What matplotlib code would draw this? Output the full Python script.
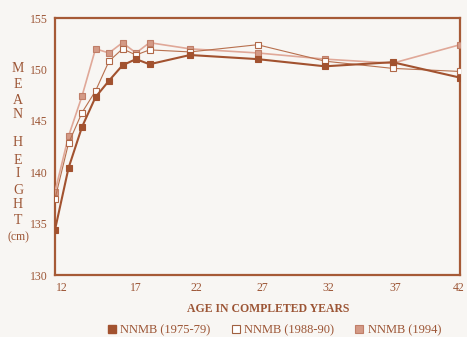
import matplotlib
matplotlib.use("Agg")
import matplotlib.pyplot as plt
import matplotlib.transforms as mtransforms
from matplotlib.lines import Line2D

ages = [12, 13, 14, 15, 16, 17, 18, 19, 22, 27, 32, 37, 42]
h_1975 = [134.4, 140.4, 144.4, 147.3, 148.9, 150.4, 151.0, 150.5, 151.4, 151.0, 150.3, 150.7, 149.2]
h_1988 = [137.4, 142.8, 145.8, 147.9, 150.8, 152.0, 151.4, 151.9, 151.7, 152.4, 150.8, 150.1, 149.8]
h_1994 = [138.1, 143.5, 147.4, 152.0, 151.6, 152.6, 151.6, 152.6, 152.0, 151.6, 151.0, 150.6, 152.4]
series_labels = ["NNMB (1975-79)", "NNMB (1988-90)", "NNMB (1994)"]
x_ticks = [12, 17, 22, 27, 32, 37, 42]
y_ticks = [130, 135, 140, 145, 150, 155]

plt.rcParams['font.family'] = ['Liberation Serif', 'DejaVu Serif']

bg = '#f8f6f3'
dark = '#a2522f'
light = '#d49a86'
line_light = '#e0a898'
frame = '#a65a36'
text_c = '#9c5535'

fig = plt.figure(figsize=(4.67, 3.37), dpi=100, facecolor=bg)
ax = fig.add_axes([55/467, (337-275)/337, 405/467, 257/337], facecolor=bg)

ax.plot(ages, h_1994, color=line_light, lw=1.2, marker='s', ms=5,
        mfc=light, mec='#c07e68', mew=0.8, zorder=3)
ax.plot(ages, h_1988, color='#b8704e', lw=0.8, marker='s', ms=5,
        mfc='white', mec='#b06848', mew=0.8, zorder=4)
ax.plot(ages, h_1975, color=dark, lw=1.5, marker='s', ms=5,
        mfc=dark, mec=dark, mew=0.8, zorder=5)

ax.set_xlim(12, 42)
ax.set_ylim(130, 155)
ax.set_xticks(x_ticks)
ax.set_xticklabels([str(v) for v in x_ticks])
ax.set_yticks(y_ticks)
ax.set_yticklabels([str(v) for v in y_ticks])
ax.tick_params(length=0, labelsize=8.5, colors=text_c, pad=5)
offsets = [7, 13, 6, 5, 3, 3, -1]
for lbl, off in zip(ax.get_xticklabels(), offsets):
    lbl.set_transform(lbl.get_transform() + mtransforms.ScaledTranslation(off/100, 0, fig.dpi_scale_trans))
for sp in ax.spines.values():
    sp.set_color(frame)
    sp.set_linewidth(1.6)

# vertical stacked y-label
letters = [("M", 68), ("E", 85), ("A", 100), ("N", 115), ("H", 143), ("E", 161),
           ("I", 174), ("G", 190), ("H", 205), ("T", 220), ("(cm)", 237)]
for t, y in letters:
    fig.text(18/467, 1 - y/337, t, ha='center', va='center',
             fontsize=10 if len(t) == 1 else 8.5, color=text_c)

fig.text(268/467, 1 - 309/337, "AGE IN COMPLETED YEARS", ha='center', va='center',
         fontsize=8.5, fontweight='bold', color=text_c)

handles = [
    Line2D([], [], ls='none', marker='s', ms=6, mfc=dark, mec=dark),
    Line2D([], [], ls='none', marker='s', ms=6, mfc='white', mec='#a06040', mew=0.8),
    Line2D([], [], ls='none', marker='s', ms=6, mfc=light, mec='#c07e68', mew=0.8),
]
leg = fig.legend(handles, series_labels, loc='center', bbox_to_anchor=(274/467, 1 - 330/337),
                 ncol=3, frameon=False, fontsize=9, handlelength=0.8, handletextpad=0.3,
                 columnspacing=1.6, borderpad=0)
for t in leg.get_texts():
    t.set_color(text_c)

fig.savefig("out.png", dpi=100, facecolor=bg)
